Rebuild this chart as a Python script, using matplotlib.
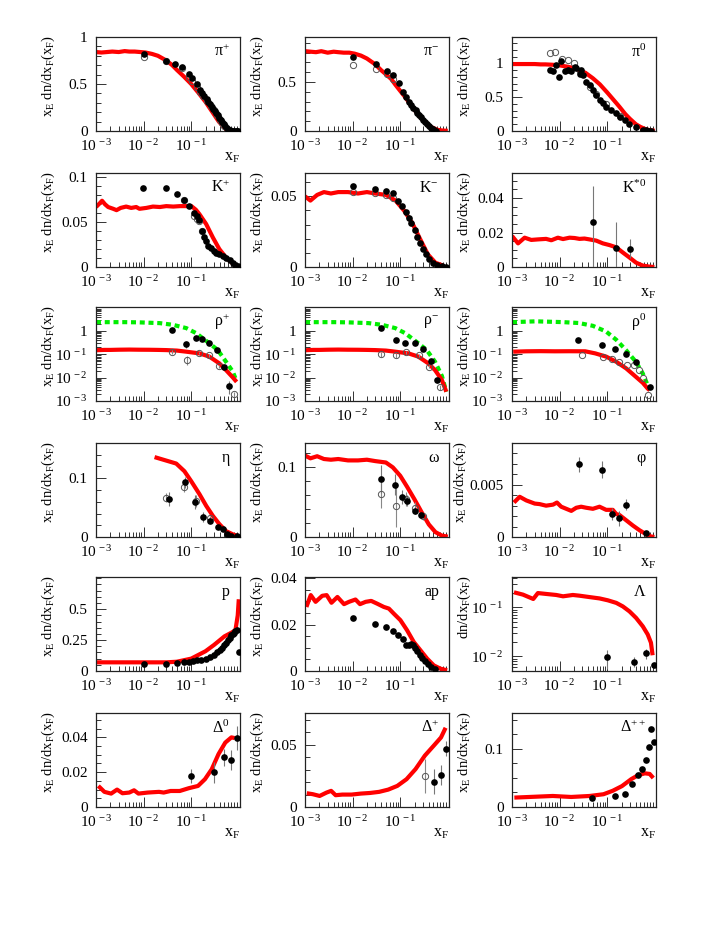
import math
import matplotlib
matplotlib.use('Agg')
import matplotlib.pyplot as plt
from matplotlib.ticker import FixedLocator, FixedFormatter, NullFormatter

plt.rcParams['font.family'] = ['Liberation Serif', 'DejaVu Serif']
plt.rcParams['mathtext.fontset'] = 'custom'
plt.rcParams['mathtext.rm'] = 'Liberation Serif'
plt.rcParams['mathtext.it'] = 'Liberation Serif:italic'
plt.rcParams['mathtext.bf'] = 'Liberation Serif:bold'

# ---------------- data ----------------
# pi+
pip_rx = [0.001, 0.0013, 0.0017, 0.0022, 0.003, 0.004, 0.005, 0.0065, 0.0085, 0.011, 0.015, 0.02, 0.03, 0.04, 0.05, 0.07, 0.1, 0.14, 0.2, 0.28, 0.38, 0.5, 0.6]
pip_ry = [0.84, 0.835, 0.84, 0.845, 0.84, 0.85, 0.845, 0.845, 0.84, 0.835, 0.82, 0.80, 0.75, 0.70, 0.65, 0.58, 0.50, 0.41, 0.31, 0.20, 0.10, 0.035, 0.005]
pip_fx = [0.0102, 0.030, 0.046, 0.063, 0.088, 0.105, 0.13, 0.15, 0.17, 0.19, 0.21, 0.23, 0.25, 0.27, 0.29, 0.31, 0.33, 0.36, 0.39, 0.42, 0.45, 0.48, 0.52, 0.56, 0.6, 0.65, 0.7, 0.75, 0.8, 0.86, 0.92, 0.98]
pip_fy = [0.82, 0.75, 0.71, 0.68, 0.61, 0.56, 0.50, 0.44, 0.40, 0.37, 0.34, 0.31, 0.285, 0.26, 0.235, 0.21, 0.19, 0.165, 0.14, 0.115, 0.095, 0.075, 0.05, 0.03, 0.015, 0.006, 0.003, 0.002, 0.001, 0.001, 0.001, 0.001]
pip_ox = [0.0102, 0.030, 0.063, 0.088, 0.105, 0.13, 0.15, 0.18, 0.22, 0.26, 0.3, 0.35, 0.4, 0.45, 0.5]
pip_oy = [0.79, 0.74, 0.67, 0.57, 0.53, 0.47, 0.42, 0.37, 0.32, 0.27, 0.22, 0.17, 0.12, 0.08, 0.05]

# pi-
pim_rx = [0.001, 0.0013, 0.0017, 0.0022, 0.003, 0.004, 0.005, 0.0065, 0.0085, 0.011, 0.015, 0.02, 0.03, 0.04, 0.05, 0.065, 0.08, 0.1, 0.13, 0.17, 0.22, 0.28, 0.35, 0.45, 0.6, 0.8, 1.0]
pim_ry = [0.815, 0.81, 0.805, 0.815, 0.80, 0.81, 0.805, 0.80, 0.80, 0.79, 0.77, 0.74, 0.68, 0.62, 0.58, 0.53, 0.47, 0.41, 0.34, 0.26, 0.19, 0.13, 0.08, 0.04, 0.012, 0.004, 0.002]
pim_fx = [0.0102, 0.031, 0.052, 0.071, 0.094, 0.114, 0.135, 0.155, 0.17, 0.19, 0.21, 0.23, 0.25, 0.27, 0.3, 0.33, 0.36, 0.4, 0.44, 0.48, 0.52, 0.56]
pim_fy = [0.76, 0.68, 0.615, 0.57, 0.49, 0.40, 0.35, 0.30, 0.27, 0.24, 0.21, 0.185, 0.16, 0.14, 0.115, 0.09, 0.07, 0.05, 0.03, 0.018, 0.008, 0.003]
pim_ox = [0.0102, 0.031, 0.052, 0.071]
pim_oy = [0.67, 0.63, 0.58, 0.535]

# pi0
pi0_rx = [0.001, 0.0015, 0.002, 0.003, 0.004, 0.005, 0.007, 0.01, 0.015, 0.02, 0.026, 0.035, 0.05, 0.07, 0.1, 0.14, 0.18, 0.24, 0.3, 0.4, 0.5, 0.65, 0.8, 1.0]
pi0_ry = [0.99, 0.99, 0.99, 0.99, 0.985, 0.985, 0.98, 0.97, 0.95, 0.93, 0.90, 0.86, 0.78, 0.69, 0.57, 0.45, 0.36, 0.25, 0.18, 0.10, 0.06, 0.025, 0.01, 0.003]
pi0_fx = [0.0062, 0.0072, 0.0085, 0.0095, 0.0108, 0.0127, 0.0149, 0.0175, 0.0206, 0.0224, 0.0262, 0.0284, 0.0308, 0.0362, 0.0425, 0.050, 0.0587, 0.069, 0.081, 0.095, 0.121, 0.155, 0.182, 0.232, 0.293, 0.405, 0.56, 0.65, 0.75, 0.85]
pi0_fy = [0.90, 0.88, 0.98, 0.80, 1.04, 0.88, 0.90, 0.88, 0.95, 0.93, 0.85, 0.90, 0.83, 0.73, 0.68, 0.60, 0.53, 0.46, 0.41, 0.35, 0.31, 0.26, 0.21, 0.16, 0.11, 0.06, 0.02, 0.012, 0.006, 0.003]
pi0_ox = [0.0062, 0.0082, 0.0112, 0.0149, 0.0197, 0.0262, 0.0425, 0.0587, 0.095, 0.182]
pi0_oy = [1.16, 1.17, 1.07, 1.05, 1.00, 0.88, 0.65, 0.55, 0.40, 0.22]

# K+
kp_rx = [0.001, 0.00119, 0.00134, 0.00155, 0.0018, 0.0023, 0.0027, 0.0033, 0.0043, 0.0055, 0.007, 0.0082, 0.0114, 0.0157, 0.022, 0.030, 0.042, 0.058, 0.079, 0.101, 0.125, 0.149, 0.206, 0.285, 0.39, 0.54, 0.75, 1.0]
kp_ry = [0.067, 0.071, 0.074, 0.070, 0.067, 0.065, 0.0635, 0.066, 0.0675, 0.066, 0.067, 0.065, 0.066, 0.0675, 0.067, 0.068, 0.0675, 0.068, 0.068, 0.068, 0.064, 0.059, 0.048, 0.033, 0.020, 0.0105, 0.004, 0.0]
kp_fx = [0.0098, 0.030, 0.0499, 0.069, 0.089, 0.112, 0.131, 0.149, 0.17, 0.19, 0.206, 0.223, 0.262, 0.308, 0.335, 0.39, 0.46, 0.54, 0.64, 0.75, 0.85, 0.95]
kp_fy = [0.088, 0.088, 0.082, 0.075, 0.068, 0.060, 0.0575, 0.052, 0.0405, 0.033, 0.029, 0.024, 0.021, 0.018, 0.016, 0.014, 0.012, 0.0105, 0.008, 0.005, 0.002, 0.001]
kp_ox = [0.069, 0.112, 0.131, 0.149, 0.17]
kp_oy = [0.0745, 0.0575, 0.054, 0.0515, 0.040]

# K-
km_rx = [0.001, 0.0013, 0.0018, 0.0025, 0.0035, 0.005, 0.008, 0.013, 0.02, 0.03, 0.05, 0.08, 0.12, 0.18, 0.26, 0.38, 0.55, 0.8]
km_ry = [0.050, 0.047, 0.051, 0.053, 0.052, 0.053, 0.053, 0.052, 0.053, 0.052, 0.051, 0.047, 0.040, 0.031, 0.020, 0.009, 0.003, 0.001]
km_fx = [0.01, 0.03, 0.05, 0.07, 0.09, 0.11, 0.13, 0.15, 0.17, 0.2, 0.23, 0.26, 0.3, 0.35, 0.4, 0.5, 0.6, 0.75, 0.9]
km_fy = [0.057, 0.055, 0.054, 0.052, 0.047, 0.043, 0.039, 0.035, 0.031, 0.026, 0.021, 0.017, 0.013, 0.009, 0.006, 0.003, 0.0015, 0.0007, 0.0003]
km_ox = [0.01, 0.03, 0.05, 0.07]
km_oy = [0.053, 0.052, 0.051, 0.049]

# K*0
ks_rx = [0.001, 0.00134, 0.00184, 0.00254, 0.0035, 0.0052, 0.0067, 0.0092, 0.0118, 0.0162, 0.0206, 0.0262, 0.0333, 0.0425, 0.0587, 0.081, 0.112, 0.155, 0.213, 0.294, 0.405, 0.56, 0.78, 0.98]
ks_ry = [0.018, 0.0137, 0.017, 0.0157, 0.016, 0.0163, 0.0155, 0.017, 0.0162, 0.017, 0.0168, 0.0163, 0.0165, 0.016, 0.0153, 0.0137, 0.0127, 0.0114, 0.0084, 0.0055, 0.0025, 0.0008, 0.0002, 0.0]
ks_fx = [0.05, 0.15, 0.30]
ks_fy = [0.026, 0.011, 0.0104]
ks_elo = [0.026, 0.011, 0.0053]
ks_ehi = [0.021, 0.015, 0.006]

# rho+
rp_gx = [0.001, 0.002, 0.004, 0.008, 0.0217, 0.041, 0.079, 0.127, 0.175, 0.24, 0.36, 0.54, 0.75, 0.88]
rp_gy = [2.4, 2.4, 2.4, 2.35, 2.18, 1.85, 1.33, 0.81, 0.49, 0.30, 0.154, 0.048, 0.018, 0.0078]
rp_rx = [0.001, 0.0015, 0.002, 0.003, 0.005, 0.008, 0.013, 0.02, 0.03, 0.05, 0.079, 0.149, 0.24, 0.39, 0.54, 0.75, 0.9]
rp_ry = [0.15, 0.155, 0.155, 0.158, 0.16, 0.158, 0.157, 0.155, 0.152, 0.145, 0.13, 0.11, 0.08, 0.041, 0.021, 0.0102, 0.0066]
rp_fx = [0.039, 0.076, 0.127, 0.17, 0.24, 0.35, 0.48, 0.63]
rp_fy = [1.08, 0.27, 0.52, 0.47, 0.30, 0.154, 0.029, 0.0044]
rp_fe = [0.1, 0.08, 0.05, 0.04, 0.03, 0.015, 0.005, 0.0025]
rp_ox = [0.039, 0.08, 0.149, 0.24, 0.39, 0.8]
rp_oy = [0.13, 0.06, 0.11, 0.09, 0.031, 0.0019]
rp_oe = [0.03, 0.025, 0.01, 0.01, 0.004, 0.0005]

# rho-
rm_gx = [0.001, 0.002, 0.004, 0.008, 0.0217, 0.041, 0.079, 0.127, 0.175, 0.24, 0.36, 0.54, 0.75, 0.93]
rm_gy = [2.4, 2.4, 2.4, 2.35, 2.18, 1.85, 1.33, 0.81, 0.49, 0.30, 0.154, 0.048, 0.012, 0.0025]
rm_rx = [0.001, 0.0015, 0.002, 0.003, 0.005, 0.008, 0.013, 0.02, 0.03, 0.05, 0.079, 0.149, 0.24, 0.39, 0.54, 0.75, 0.93]
rm_ry = [0.15, 0.155, 0.155, 0.158, 0.16, 0.158, 0.157, 0.155, 0.152, 0.145, 0.13, 0.11, 0.08, 0.041, 0.021, 0.008, 0.0025]
rm_fx = [0.04, 0.08, 0.125, 0.2, 0.3, 0.45, 0.6]
rm_fy = [1.4, 0.4, 0.3, 0.3, 0.17, 0.05, 0.008]
rm_fe = [0.1, 0.05, 0.04, 0.03, 0.015, 0.006, 0.002]
rm_ox = [0.04, 0.08, 0.13, 0.25, 0.4, 0.7]
rm_oy = [0.1, 0.09, 0.12, 0.09, 0.03, 0.004]
rm_oe = [0.02, 0.02, 0.02, 0.01, 0.005, 0.001]

# rho0
r0_gx = [0.001, 0.0032, 0.012, 0.0255, 0.05, 0.095, 0.155, 0.25, 0.4, 0.56, 0.71, 0.78]
r0_gy = [2.4, 2.6, 2.4, 2.2, 1.67, 0.95, 0.42, 0.15, 0.048, 0.015, 0.0047, 0.003]
r0_rx = [0.00106, 0.002, 0.004, 0.008, 0.016, 0.0345, 0.056, 0.095, 0.155, 0.25, 0.4, 0.56, 0.71, 0.78]
r0_ry = [0.13, 0.135, 0.137, 0.135, 0.136, 0.135, 0.11, 0.08, 0.048, 0.025, 0.0109, 0.006, 0.0034, 0.0029]
r0_fx = [0.0246, 0.076, 0.148, 0.25, 0.40, 0.78]
r0_fy = [0.42, 0.24, 0.17, 0.10, 0.048, 0.004]
r0_ox = [0.030, 0.081, 0.127, 0.18, 0.26, 0.36, 0.46, 0.57, 0.72]
r0_oy = [0.09, 0.074, 0.065, 0.048, 0.035, 0.034, 0.021, 0.0099, 0.0018]

# eta
eta_rx = [0.017, 0.0485, 0.072, 0.1, 0.149, 0.207, 0.285, 0.39, 0.54, 0.75, 0.95]
eta_ry = [0.136, 0.125, 0.112, 0.095, 0.073, 0.053, 0.036, 0.022, 0.010, 0.0045, 0.0017]
eta_fx = [0.035, 0.074, 0.122, 0.176, 0.25, 0.36, 0.47, 0.56, 0.7, 0.9]
eta_fy = [0.065, 0.093, 0.059, 0.034, 0.027, 0.017, 0.013, 0.0057, 0.002, 0.001]
eta_fe = [0.012, 0.009, 0.012, 0.008, 0.004, 0.003, 0.002, 0.002, 0.001, 0.001]
eta_ox = [0.030, 0.070, 0.125, 0.25]
eta_oy = [0.067, 0.085, 0.061, 0.032]
eta_oe = [0.008, 0.008, 0.010, 0.004]

# omega
om_rx = [0.001, 0.0013, 0.0018, 0.0025, 0.0035, 0.005, 0.008, 0.013, 0.02, 0.03, 0.05, 0.07, 0.1, 0.14, 0.2, 0.28, 0.4, 0.55, 0.75, 1.0]
om_ry = [0.117, 0.113, 0.116, 0.112, 0.111, 0.112, 0.110, 0.110, 0.111, 0.109, 0.107, 0.100, 0.088, 0.072, 0.054, 0.036, 0.018, 0.007, 0.002, 0.0005]
om_fx = [0.04, 0.076, 0.11, 0.14, 0.2, 0.27]
om_fy = [0.083, 0.075, 0.057, 0.052, 0.038, 0.032]
om_fe = [0.02, 0.015, 0.01, 0.008, 0.005, 0.004]
om_ox = [0.04, 0.08, 0.13, 0.2, 0.3]
om_oy = [0.062, 0.045, 0.055, 0.042, 0.030]
om_oe = [0.02, 0.03, 0.01, 0.008, 0.005]

# phi
phi_rx = [0.0011, 0.00145, 0.002, 0.003, 0.0038, 0.0052, 0.0073, 0.0088, 0.0108, 0.0138, 0.0176, 0.0224, 0.0284, 0.0362, 0.05, 0.069, 0.095, 0.131, 0.155, 0.182, 0.251, 0.346, 0.48, 0.66, 0.83, 0.98]
phi_ry = [0.0033, 0.00385, 0.0035, 0.0032, 0.00315, 0.0030, 0.0031, 0.0033, 0.0029, 0.0027, 0.0025, 0.0028, 0.0029, 0.0028, 0.0027, 0.0029, 0.0026, 0.0026, 0.0022, 0.0021, 0.0016, 0.0011, 0.00064, 0.00026, 0.00005, 0.0]
phi_fx = [0.025, 0.076, 0.127, 0.176, 0.25, 0.65]
phi_fy = [0.00696, 0.00644, 0.0022, 0.0018, 0.0031, 0.0004]
phi_fe = [0.0007, 0.0008, 0.0006, 0.0007, 0.0005, 0.0002]

# p
p_rx = [0.001, 0.002, 0.004, 0.008, 0.015, 0.03, 0.05, 0.1, 0.2, 0.3, 0.5, 0.7, 0.85, 0.95, 1.0]
p_ry = [0.07, 0.07, 0.07, 0.07, 0.07, 0.07, 0.075, 0.10, 0.16, 0.21, 0.28, 0.31, 0.33, 0.45, 0.58]
p_fx = [0.01, 0.03, 0.05, 0.07, 0.09, 0.11, 0.13, 0.16, 0.2, 0.25, 0.3, 0.35, 0.4, 0.45, 0.5, 0.55, 0.6, 0.65, 0.7, 0.75, 0.8, 0.85, 0.9, 1.0]
p_fy = [0.055, 0.06, 0.065, 0.07, 0.075, 0.08, 0.085, 0.09, 0.1, 0.115, 0.13, 0.15, 0.17, 0.19, 0.21, 0.23, 0.25, 0.27, 0.29, 0.30, 0.31, 0.32, 0.33, 0.15]

# anti-proton
ap_rx = [0.00107, 0.00132, 0.00167, 0.0023, 0.00285, 0.0036, 0.0048, 0.0066, 0.0084, 0.0115, 0.0143, 0.0188, 0.0246, 0.0329, 0.0453, 0.0578, 0.0735, 0.101, 0.139, 0.193, 0.267, 0.369, 0.51, 0.70, 0.97]
ap_ry = [0.0276, 0.0327, 0.0298, 0.0324, 0.0327, 0.0294, 0.0319, 0.0288, 0.0298, 0.0308, 0.0288, 0.0298, 0.0302, 0.0290, 0.0276, 0.0269, 0.0247, 0.0219, 0.0176, 0.0125, 0.0089, 0.0053, 0.0024, 0.0010, 0.0003]
ap_fx = [0.01, 0.0298, 0.0508, 0.071, 0.092, 0.112, 0.131, 0.152, 0.17, 0.187, 0.206, 0.228, 0.255, 0.29, 0.33, 0.38, 0.45, 0.53]
ap_fy = [0.0229, 0.0204, 0.0188, 0.0174, 0.0154, 0.0137, 0.0114, 0.0114, 0.0118, 0.0112, 0.0099, 0.0085, 0.0071, 0.0058, 0.0043, 0.0029, 0.0017, 0.0007]

# Lambda
lam_rx = [0.0011, 0.0017, 0.0028, 0.0035, 0.0052, 0.0085, 0.0118, 0.019, 0.0262, 0.0425, 0.069, 0.103, 0.155, 0.213, 0.294, 0.405, 0.56, 0.71, 0.83, 0.9]
lam_ry = [0.204, 0.183, 0.149, 0.197, 0.189, 0.18, 0.169, 0.18, 0.174, 0.163, 0.153, 0.14, 0.124, 0.105, 0.083, 0.061, 0.041, 0.028, 0.019, 0.0105]
lam_fx = [0.1, 0.36, 0.65, 0.94]
lam_fy = [0.0097, 0.0075, 0.0117, 0.0065]
lam_elo = [0.0042, 0.0015, 0.0027, 0.0005]
lam_ehi = [0.004, 0.0022, 0.0027, 0.0005]

# Delta0
d0_rx = [0.00112, 0.0015, 0.00208, 0.00277, 0.0036, 0.005, 0.0063, 0.0078, 0.0122, 0.0211, 0.0264, 0.0369, 0.0575, 0.089, 0.139, 0.195, 0.27, 0.375, 0.52, 0.70, 0.82]
d0_ry = [0.0121, 0.0087, 0.0077, 0.010, 0.0079, 0.0083, 0.0096, 0.0077, 0.0083, 0.0087, 0.0083, 0.0092, 0.0092, 0.0108, 0.0121, 0.016, 0.0217, 0.0304, 0.037, 0.040, 0.0396]
d0_fx = [0.1, 0.3, 0.5, 0.7, 0.91]
d0_fy = [0.0179, 0.020, 0.0285, 0.027, 0.0396]
d0_fe = [0.004, 0.006, 0.005, 0.006, 0.007]

# Delta+
dp_rx = [0.00109, 0.00146, 0.00203, 0.00283, 0.00354, 0.0044, 0.0061, 0.0095, 0.0149, 0.0232, 0.0362, 0.056, 0.087, 0.136, 0.21, 0.33, 0.51, 0.72, 0.90]
dp_ry = [0.0111, 0.0103, 0.0089, 0.0116, 0.013, 0.0095, 0.010, 0.010, 0.0108, 0.0113, 0.0122, 0.014, 0.017, 0.0224, 0.0305, 0.0414, 0.0495, 0.056, 0.0638]
dp_fx = [0.51, 0.72, 0.92]
dp_fy = [0.0205, 0.026, 0.0468]
dp_fe = [0.010, 0.008, 0.006]
dp_ox = [0.34]
dp_oy = [0.025]
dp_oe = [0.014]

# Delta++
dpp_rx = [0.00112, 0.00234, 0.0072, 0.0175, 0.0427, 0.0837, 0.131, 0.204, 0.32, 0.45, 0.62, 0.78, 0.93]
dpp_ry = [0.0162, 0.0173, 0.019, 0.0173, 0.019, 0.022, 0.028, 0.036, 0.048, 0.055, 0.058, 0.057, 0.050]
dpp_fx = [0.048, 0.145, 0.24, 0.34, 0.44, 0.55, 0.65, 0.74, 0.85, 0.98]
dpp_fy = [0.016, 0.0185, 0.023, 0.039, 0.055, 0.066, 0.0815, 0.104, 0.134, 0.112]

# --------------- layout / drawing ---------------
W, H = 723, 935
col_left = [96, 305, 512]
row_top = [37, 173, 307, 443, 577, 713]
AW, AH = 144, 94

YLAB = r'x$_{\rm E}$ dn/dx$_{\rm F}$(x$_{\rm F}$)'
FS = 11


def log_lab(v):
    if v == 1:
        return '1'
    e = int(round(math.log10(v)))
    return r'$\mathregular{10^{\,%d}}$' % e


def make_ax(r, c):
    l = col_left[c] / W
    b = 1 - (row_top[r] + AH) / H
    return fig.add_axes([l, b, AW / W, AH / H])


def style(ax, ylim, yticks=None, yminor=None, logy=False, ylabel=YLAB, name='', ylx=-0.33):
    ax.set_xscale('log')
    ax.set_xlim(1e-3, 1.06)
    if logy:
        ax.set_yscale('log')
    ax.set_ylim(*ylim)
    ax.xaxis.set_major_locator(FixedLocator([1e-3, 1e-2, 1e-1]))
    ax.xaxis.set_major_formatter(FixedFormatter([log_lab(v) for v in [1e-3, 1e-2, 1e-1]]))
    ax.xaxis.set_minor_locator(FixedLocator([k * 10.0 ** e for e in (-3, -2, -1) for k in range(2, 10)]))
    ax.xaxis.set_minor_formatter(NullFormatter())
    if logy:
        lo = int(math.floor(math.log10(ylim[0])))
        hi = int(math.ceil(math.log10(ylim[1])))
        majors = [10.0 ** e for e in range(lo, 1) if ylim[0] * 0.999 <= 10.0 ** e <= ylim[1]]
        ax.yaxis.set_major_locator(FixedLocator(majors))
        ax.yaxis.set_major_formatter(FixedFormatter([log_lab(v) for v in majors]))
        mins = [k * 10.0 ** e for e in range(lo, hi) for k in range(2, 10)]
        ax.yaxis.set_minor_locator(FixedLocator(mins))
        ax.yaxis.set_minor_formatter(NullFormatter())
    else:
        ax.yaxis.set_major_locator(FixedLocator(yticks))
        ax.yaxis.set_major_formatter(FixedFormatter(['0' if t == 0 else ('%g' % t) for t in yticks]))
        n = int(round(ylim[1] / yminor)) + 1
        ax.yaxis.set_minor_locator(FixedLocator([i * yminor for i in range(n)]))
        ax.yaxis.set_minor_formatter(NullFormatter())
    ax.tick_params(which='both', direction='in', top=False, right=False, colors='#333333', labelcolor='black', labelsize=FS)
    ax.tick_params(axis='x', which='major', length=7.5, width=0.7, pad=5)
    ax.tick_params(axis='x', which='minor', length=3.5, width=0.7)
    ax.tick_params(axis='y', which='major', length=7, width=0.7, pad=6)
    ax.tick_params(axis='y', which='minor', length=3.5, width=0.7)
    for s in ax.spines.values():
        s.set_linewidth(0.9)
        s.set_color('#222222')
    ax.text(ylx, 1.02, ylabel, rotation=90, ha='center', va='top', transform=ax.transAxes, fontsize=10.5)
    ax.text(1.0, -0.28, r'x$_{\rm F}$', ha='right', va='center', transform=ax.transAxes, fontsize=FS + 0.5)
    ax.text(0.93, 0.84, name, ha='right', va='center', transform=ax.transAxes, fontsize=FS + 0.5)


def red(ax, x, y):
    ax.plot(x, y, color='#ff0000', lw=3.0, solid_joinstyle='round', solid_capstyle='butt', zorder=2)


def green(ax, x, y):
    ax.plot(x, y, color='#00ee00', lw=3.0, dashes=(1.2, 0.9), dash_capstyle='butt', zorder=2)


def filled(ax, x, y, err=None):
    if err is not None:
        ax.errorbar(x, y, yerr=err, fmt='none', ecolor='#777777', elinewidth=0.8, capsize=0, zorder=3)
    ax.plot(x, y, 'o', color='black', ms=4.8, mew=0, zorder=5)


def opened(ax, x, y, err=None):
    if err is not None:
        ax.errorbar(x, y, yerr=err, fmt='none', ecolor='#888888', elinewidth=0.8, capsize=0, zorder=3)
    ax.plot(x, y, 'o', mfc='none', mec='#555555', mew=0.7, ms=4.5, zorder=4)


fig = plt.figure(figsize=(W / 100, H / 100), dpi=100)

# row 1
ax = make_ax(0, 0)
red(ax, pip_rx, pip_ry); opened(ax, pip_ox, pip_oy); filled(ax, pip_fx, pip_fy)
style(ax, (0, 1.0), [0, 0.5, 1], 0.1, name=r'π$^{+}$')

ax = make_ax(0, 1)
red(ax, pim_rx, pim_ry); opened(ax, pim_ox, pim_oy); filled(ax, pim_fx, pim_fy)
style(ax, (0, 0.96), [0, 0.5], 0.1, name=r'π$^{-}$')

ax = make_ax(0, 2)
red(ax, pi0_rx, pi0_ry); opened(ax, pi0_ox, pi0_oy); filled(ax, pi0_fx, pi0_fy)
style(ax, (0, 1.39), [0, 0.5, 1], 0.1, name=r'π$^{0}$')

# row 2
ax = make_ax(1, 0)
red(ax, kp_rx, kp_ry); opened(ax, kp_ox, kp_oy); filled(ax, kp_fx, kp_fy)
style(ax, (0, 0.105), [0, 0.05, 0.1], 0.01, name=r'K$^{+}$')

ax = make_ax(1, 1)
red(ax, km_rx, km_ry); opened(ax, km_ox, km_oy); filled(ax, km_fx, km_fy)
style(ax, (0, 0.0665), [0, 0.05], 0.01, name=r'K$^{-}$')

ax = make_ax(1, 2)
red(ax, ks_rx, ks_ry); filled(ax, ks_fx, ks_fy, [ks_elo, ks_ehi])
style(ax, (0, 0.0545), [0, 0.02, 0.04], 0.005, name=r'K$^{*0}$')

# row 3
ax = make_ax(2, 0)
green(ax, rp_gx, rp_gy); red(ax, rp_rx, rp_ry)
opened(ax, rp_ox, rp_oy, rp_oe); filled(ax, rp_fx, rp_fy, rp_fe)
style(ax, (1e-3, 10.7), logy=True, name=r'ρ$^{+}$')

ax = make_ax(2, 1)
green(ax, rm_gx, rm_gy); red(ax, rm_rx, rm_ry)
opened(ax, rm_ox, rm_oy, rm_oe); filled(ax, rm_fx, rm_fy, rm_fe)
style(ax, (1e-3, 10.7), logy=True, name=r'ρ$^{-}$')

ax = make_ax(2, 2)
green(ax, r0_gx, r0_gy); red(ax, r0_rx, r0_ry)
opened(ax, r0_ox, r0_oy); filled(ax, r0_fx, r0_fy)
style(ax, (1e-3, 10.7), logy=True, name=r'ρ$^{0}$')

# row 4
ax = make_ax(3, 0)
red(ax, eta_rx, eta_ry); opened(ax, eta_ox, eta_oy, eta_oe); filled(ax, eta_fx, eta_fy, eta_fe)
style(ax, (0, 0.16), [0, 0.1], 0.02, name='η')

ax = make_ax(3, 1)
red(ax, om_rx, om_ry); opened(ax, om_ox, om_oy, om_oe); filled(ax, om_fx, om_fy, om_fe)
style(ax, (0, 0.135), [0, 0.1], 0.02, name='ω')

ax = make_ax(3, 2)
red(ax, phi_rx, phi_ry); filled(ax, phi_fx, phi_fy, phi_fe)
style(ax, (0, 0.009), [0, 0.005], 0.001, name='φ', ylx=-0.36)

# row 5
ax = make_ax(4, 0)
red(ax, p_rx, p_ry); filled(ax, p_fx, p_fy)
style(ax, (0, 0.76), [0, 0.25, 0.5], 0.05, name='p')

ax = make_ax(4, 1)
red(ax, ap_rx, ap_ry); filled(ax, ap_fx, ap_fy)
style(ax, (0, 0.0405), [0, 0.02, 0.04], 0.005, name='ap')

ax = make_ax(4, 2)
red(ax, lam_rx, lam_ry); filled(ax, lam_fx, lam_fy, [lam_elo, lam_ehi])
style(ax, (0.005, 0.42), logy=True, ylabel=r'dn/dx$_{\rm F}$(x$_{\rm F}$)', name='Λ')

# row 6
ax = make_ax(5, 0)
red(ax, d0_rx, d0_ry); filled(ax, d0_fx, d0_fy, d0_fe)
style(ax, (0, 0.054), [0, 0.02, 0.04], 0.005, name=r'Δ$^{0}$')

ax = make_ax(5, 1)
red(ax, dp_rx, dp_ry); opened(ax, dp_ox, dp_oy, dp_oe); filled(ax, dp_fx, dp_fy, dp_fe)
style(ax, (0, 0.0757), [0, 0.05], 0.01, name=r'Δ$^{+}$')

ax = make_ax(5, 2)
red(ax, dpp_rx, dpp_ry); filled(ax, dpp_fx, dpp_fy)
style(ax, (0, 0.162), [0, 0.1], 0.025, name=r'Δ$^{++}$')

fig.savefig('out.png', dpi=100)
